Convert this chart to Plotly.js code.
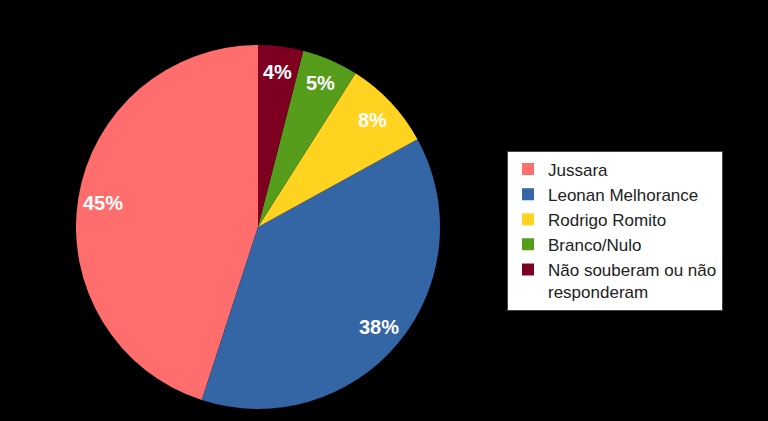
<!DOCTYPE html>
<html>
<head>
<meta charset="utf-8">
<script src="https://cdn.plot.ly/plotly-3.0.1.min.js"></script>
<style>html,body{margin:0;padding:0;background:#000;}#chart{width:768px;height:421px;}</style>
</head>
<body>
<div id="chart"></div>
<script>
const categories = ["Jussara", "Leonan Melhorance", "Rodrigo Romito", "Branco/Nulo", "Não souberam ou não<br>responderam"];
const values = [45, 38, 8, 5, 4];
const colors = ["#ff6d6d", "#3465a4", "#ffd320", "#579d1c", "#7e0021"];

const W = 768, H = 421;
const cx = 258, cy = 194, R = 182; // pie center (px from left, px from bottom) and radius
const dom = {x: [(cx - R) / W, (cx + R) / W], y: [(cy - R) / H, (cy + R) / H]};

const total = values.reduce((a, b) => a + b, 0);
const annotations = [];
let cum = 0;
values.forEach((v, i) => {
  const mid = (cum + v / 2) / total;
  cum += v;
  const th = 2 * Math.PI * mid; // counterclockwise from top
  const rr = 0.86 * R;
  annotations.push({
    xref: 'paper', yref: 'paper',
    x: (cx - rr * Math.sin(th)) / W,
    y: (cy + rr * Math.cos(th)) / H,
    xanchor: 'center', yanchor: 'middle',
    text: Math.round(v / total * 100) + '%',
    showarrow: false,
    font: {family: 'Liberation Sans, Arial, sans-serif', size: 20, color: '#ffffff', weight: 'bold'}
  });
});

const trace = {
  type: 'pie',
  labels: categories,
  values: values,
  sort: false,
  direction: 'counterclockwise',
  // Plotly's counterclockwise pies end the first slice at `rotation`; shift so it starts at 12 o'clock
  rotation: -values[0] / total * 360,
  marker: {colors: colors, line: {width: 0}},
  textinfo: 'none',
  hoverinfo: 'label+percent',
  domain: dom
};

const layout = {
  width: W, height: H,
  margin: {l: 0, r: 0, t: 0, b: 0},
  paper_bgcolor: '#000000',
  plot_bgcolor: '#000000',
  showlegend: true,
  legend: {
    x: 507 / W, y: (H - 230.5) / H, xanchor: 'left', yanchor: 'middle',
    bgcolor: '#ffffff', bordercolor: '#444444', borderwidth: 1,
    font: {family: 'Liberation Sans, Arial, sans-serif', size: 17, color: '#222222'},
    valign: 'top', traceorder: 'normal'
  },
  annotations: annotations
};

Plotly.newPlot('chart', [trace], layout, {displayModeBar: false, staticPlot: true});
</script>
</body>
</html>
